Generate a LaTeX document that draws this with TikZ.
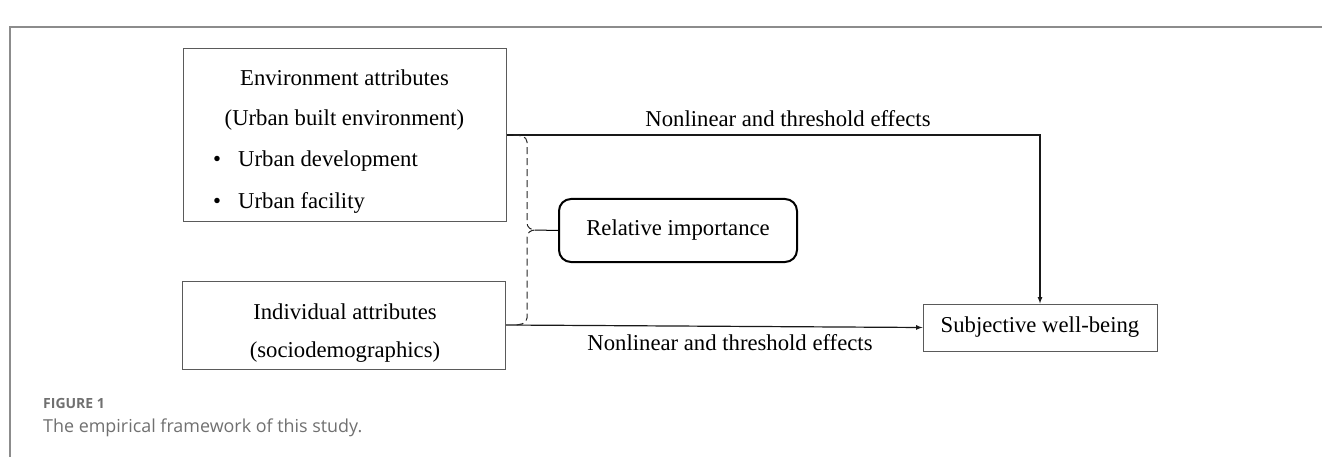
\documentclass[tikz,border=0pt]{standalone}
\usepackage{fontspec}
\setmainfont{Liberation Serif}
\newfontfamily\capfont{Open Sans}
\usetikzlibrary{positioning,calc}
\definecolor{boxgray}{HTML}{5A5A5A}
\definecolor{capgray}{HTML}{707070}
\definecolor{framegray}{HTML}{8C8C8C}
\tikzset{attr box/.style={draw=boxgray,line width=1pt,minimum width=323pt,inner sep=0pt},
         lbl/.style={anchor=base,inner sep=0pt,font=\fontsize{22.7}{27}\selectfont},
         conn/.style={black!90,line width=1.2pt},
         brace dash/.style={black!85,dash pattern=on 7pt off 4pt,line width=1pt}}

\begin{document}
\begin{tikzpicture}[x=1pt,y=-1pt]
        \useasboundingbox (0,0) rectangle (1322,457);
        % frame
        \draw[framegray,line width=1.5pt] (10,457) -- (10,27) -- (1322,27);
        % boxes
        \node[attr box,minimum height=172pt] (env) at (344.5,135) {};
        \node[attr box,minimum height=88pt] (ind) at (344,325) {};
        \node[draw,line width=2pt,rounded corners=12pt,minimum width=238pt,minimum height=63pt,
            font=\fontsize{22.7}{27}\selectfont] (relimp) at (678,230.5) {Relative importance};
        \node[draw=boxgray,line width=1pt,minimum width=234pt,minimum height=47pt,
            font=\fontsize{22.7}{27}\selectfont] (swb) at (1040,327.5) {Subjective well-being};
        % text in the boxes
        \node[lbl] (env-t1) at (344.5,86) {Environment attributes};
        \node[lbl] (env-t2) at (344.5,126) {(Urban built environment)};
        \foreach \T [count=\i] in {Urban development,Urban facility}
            {
                \node[lbl] (env-d\i) at (217,{126+41*\i}) {\textbullet};
                \node[lbl,anchor=base west] (env-b\i) at (238,{126+41*\i}) {\T};
            }
        \node[lbl] (ind-t1) at (345,319) {Individual attributes};
        \node[lbl] (ind-t2) at (345,357) {(sociodemographics)};
        %
        \draw[conn,-latex] (env.east) -| (swb.north);
        \draw[conn,-latex] (ind.east) -- (swb.west);
        \node[lbl] (eff-top) at (788,127) {Nonlinear and threshold effects};
        \node[lbl] (eff-bot) at (730,350) {Nonlinear and threshold effects};
        % the brace
        \coordinate (tip) at (535,230);
        \draw[brace dash] ($(env.east)+(7,0)$) to[out=0,in=90] (527,142) -- (527,223)
            to[out=-90,in=180] (tip) to[out=180,in=90] (527,237) -- (527,318)
            to[out=-90,in=0] ($(ind.east)+(7,0)$);
        \draw[line width=1pt] (tip) -- (relimp.west);
        % caption
        \node[anchor=base west,inner sep=0pt,capgray,font=\capfont\bfseries\fontsize{14}{16}\selectfont] (fig) at (43,408) {FIGURE 1};
        \node[anchor=base west,inner sep=0pt,capgray,font=\capfont\fontsize{17.9}{21}\selectfont] (cap) at (43,432) {The empirical framework of this study.};
    \end{tikzpicture}
\end{document}
